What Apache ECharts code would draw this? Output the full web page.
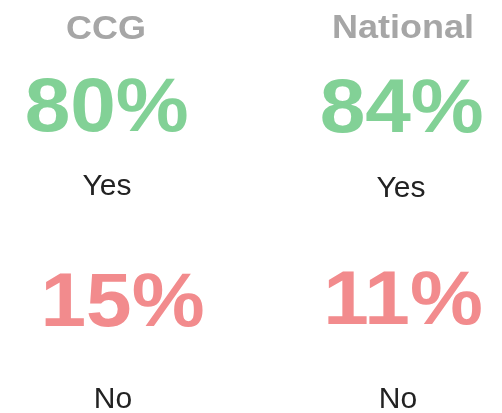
<!DOCTYPE html>
<html>
<head>
<meta charset="utf-8">
<script src="https://cdn.jsdelivr.net/npm/echarts@6/dist/echarts.min.js"></script>
<style>
html,body{margin:0;padding:0;background:#fff;}
#chart{width:502px;height:413px;}
</style>
</head>
<body>
<div id="chart"></div>
<script>
// Data
var groups = ['CCG', 'National'];
var yesValues = [80, 84];
var noValues = [15, 11];
var answerLabels = ['Yes', 'No'];

// Layout (per column)
var colX = {
  title: [106, 403],
  yes: [106.7, 401.7],
  yesLabel: [107, 401],
  no: [122.5, 403],
  noLabel: [113, 398]
};
var rowY = {
  title: [29.6, 29.4],
  yes: [110, 110.5],
  yesLabel: [186.3, 188.9],
  no: [304.5, 303],
  noLabel: [399.6, 399.6]
};

function txt(text, x, y, size, weight, color, sy) {
  return {
    type: 'text',
    x: x, y: y,
    scaleY: sy || 1,
    style: {
      text: text,
      x: 0, y: 0,
      align: 'center',
      verticalAlign: 'middle',
      fontFamily: 'Liberation Sans',
      fontSize: size,
      fontWeight: weight,
      fill: color
    }
  };
}

var graphics = [];
for (var i = 0; i < groups.length; i++) {
  graphics.push(txt(groups[i], colX.title[i], rowY.title[i], 36, 'bold', '#a6a6a6', 0.9));
  graphics.push(txt(yesValues[i] + '%', colX.yes[i], rowY.yes[i], 82, 'bold', '#82d196', 0.93));
  graphics.push(txt(answerLabels[0], colX.yesLabel[i], rowY.yesLabel[i], 30, 'normal', '#222222'));
  graphics.push(txt(noValues[i] + '%', colX.no[i], rowY.no[i], 82, 'bold', '#f28b8d', 0.93));
  graphics.push(txt(answerLabels[1], colX.noLabel[i], rowY.noLabel[i], 30, 'normal', '#222222'));
}

var chart = echarts.init(document.getElementById('chart'), null, {renderer: 'canvas'});
chart.setOption({
  animation: false,
  backgroundColor: '#ffffff',
  graphic: graphics
});
</script>
</body>
</html>
